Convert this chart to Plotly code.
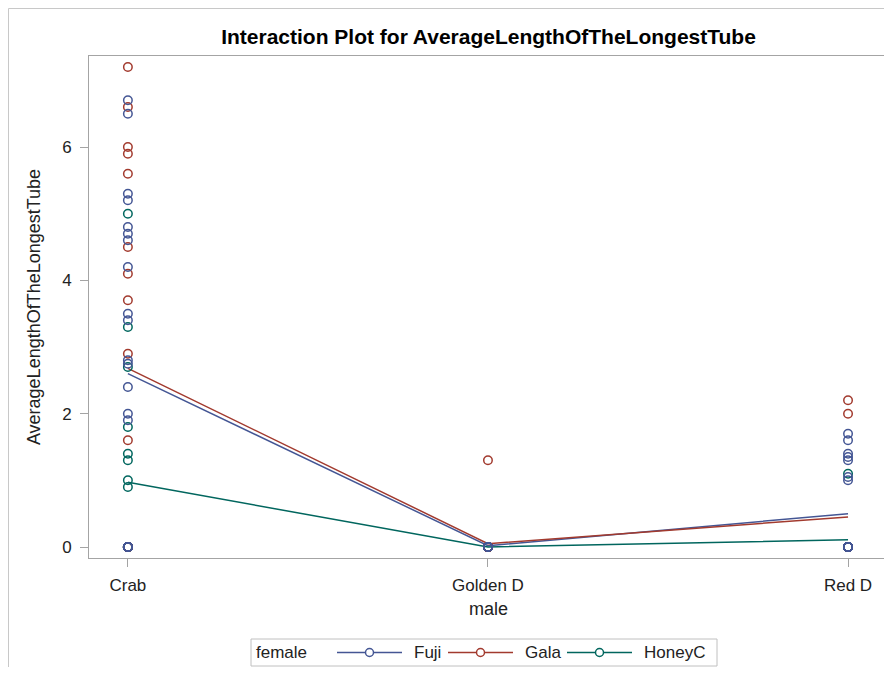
import plotly.graph_objects as go

# ---- data ----
males = ["Crab", "Golden D", "Red D"]
females = ["Fuji", "Gala", "HoneyC"]

fuji_crab = [6.7, 6.5, 5.3, 5.2, 4.8, 4.7, 4.6, 4.2, 3.5, 3.4, 2.8, 2.75, 2.4, 2.0, 1.9, 0, 0, 0, 0, 0, 0, 0, 0]
fuji_golden = [0, 0, 0, 0, 0, 0]
fuji_red = [1.7, 1.6, 1.4, 1.35, 1.3, 1.05, 1.0, 0, 0, 0, 0, 0, 0, 0, 0, 0, 0, 0, 0, 0]

gala_crab = [7.2, 6.6, 6.0, 5.9, 5.6, 4.5, 4.1, 3.7, 2.9, 1.6, 0, 0, 0, 0, 0, 0, 0, 0]
gala_golden = [1.3, 0, 0, 0, 0, 0, 0, 0, 0, 0, 0, 0, 0, 0, 0, 0, 0, 0, 0, 0]
gala_red = [2.2, 2.0, 0, 0, 0, 0, 0, 0, 0]

honey_crab = [5.0, 3.3, 2.7, 1.8, 1.4, 1.3, 1.0, 0.9, 0, 0, 0, 0, 0, 0, 0, 0, 0, 0]
honey_golden = [0, 0, 0, 0, 0]
honey_red = [1.1, 0, 0, 0, 0, 0, 0, 0, 0, 0]

fuji_mean = [2.6, 0.02, 0.5]
gala_mean = [2.68, 0.05, 0.45]
honey_mean = [0.97, 0.0, 0.11]

y_ticks = [0, 2, 4, 6]

colors = {"Fuji": "#445694", "Gala": "#A23A2E", "HoneyC": "#01665E"}
points = {
    "Fuji": [fuji_crab, fuji_golden, fuji_red],
    "Gala": [gala_crab, gala_golden, gala_red],
    "HoneyC": [honey_crab, honey_golden, honey_red],
}
means = {"Fuji": fuji_mean, "Gala": gala_mean, "HoneyC": honey_mean}

FONT = "Liberation Sans, Arial, sans-serif"
TXT = "#222222"
FRAME = "#a4a4a4"

W, H = 884, 659
L, R, T, B = 81, 4, 48, 109
PW, PH = W - L - R, H - T - B


def px2x(x):
    return (x - L) / PW


def px2y(y):
    return (H - B - y) / PH


fig = go.Figure()

# mean lines
for f in females:
    fig.add_trace(go.Scatter(
        x=males, y=means[f], mode="lines",
        line=dict(color=colors[f], width=1.5),
        showlegend=False, hoverinfo="skip"))

# observed points (Fuji drawn last so it is on top)
for f in ["HoneyC", "Gala", "Fuji"]:
    xs, ys = [], []
    for m, vals in zip(males, points[f]):
        xs += [m] * len(vals)
        ys += vals
    fig.add_trace(go.Scatter(
        x=xs, y=ys, mode="markers",
        marker=dict(symbol="circle-open", size=8.5, color=colors[f],
                    line=dict(width=1.5, color=colors[f])),
        showlegend=False))

shapes = [
    # outer image border
    dict(type="rect", xref="paper", yref="paper",
         x0=px2x(0.5), x1=px2x(W + 20), y0=px2y(H + 30), y1=px2y(0.5),
         line=dict(color="#c8c8c8", width=1), layer="below"),
    # legend box
    dict(type="rect", xref="paper", yref="paper",
         x0=px2x(243), x1=px2x(709), y0=px2y(658), y1=px2y(631),
         line=dict(color="#c0c0c0", width=1)),
]
annotations = [
    dict(text="female", xref="paper", yref="paper", x=px2x(246), y=px2y(644.5),
         xanchor="left", yanchor="middle", showarrow=False,
         font=dict(family=FONT, size=17, color=TXT)),
]
legend_items = [("Fuji", 329), ("Gala", 440), ("HoneyC", 559)]
ly = 644.5
for name, x0 in legend_items:
    c = colors[name]
    shapes.append(dict(type="line", xref="paper", yref="paper",
                       x0=px2x(x0), x1=px2x(x0 + 65), y0=px2y(ly), y1=px2y(ly),
                       line=dict(color=c, width=1.5)))
    cx = x0 + 32.5
    shapes.append(dict(type="circle", xref="paper", yref="paper",
                       x0=px2x(cx - 4), x1=px2x(cx + 4), y0=px2y(ly + 4), y1=px2y(ly - 4),
                       fillcolor="white", line=dict(color=c, width=1.5)))
    annotations.append(dict(text=name, xref="paper", yref="paper",
                            x=px2x(x0 + 75), y=px2y(ly), xanchor="left", yanchor="middle",
                            showarrow=False, font=dict(family=FONT, size=17, color=TXT)))

fig.update_layout(
    width=W, height=H,
    margin=dict(l=L, r=R, t=T, b=B),
    paper_bgcolor="white", plot_bgcolor="white",
    showlegend=False,
    font=dict(family=FONT, size=17, color=TXT),
    title=dict(text="<b>Interaction Plot for AverageLengthOfTheLongestTube</b>",
               x=0.5, xref="paper", xanchor="center",
               y=1 - 29 / H, yref="container", yanchor="middle",
               font=dict(family=FONT, size=21, color="black")),
    xaxis=dict(type="category", categoryorder="array", categoryarray=males,
               range=[-0.108, 2.111], showgrid=False, zeroline=False,
               showline=True, linecolor=FRAME, linewidth=1, mirror=True,
               ticks="outside", ticklen=8, tickcolor=FRAME,
               ticklabelstandoff=4,
               tickfont=dict(size=17, color=TXT),
               title=dict(text="male", font=dict(size=18, color=TXT), standoff=7)),
    yaxis=dict(range=[-0.165, 7.365], tickvals=y_ticks, showgrid=False,
               zeroline=False, showline=True, linecolor=FRAME, linewidth=1,
               mirror=True, ticks="outside", ticklen=8, tickcolor=FRAME,
               ticklabelstandoff=5,
               tickfont=dict(size=17, color=TXT),
               title=dict(text="AverageLengthOfTheLongestTube",
                          font=dict(size=18, color=TXT), standoff=16)),
    shapes=shapes,
    annotations=annotations,
)

fig.write_html("out.html")
